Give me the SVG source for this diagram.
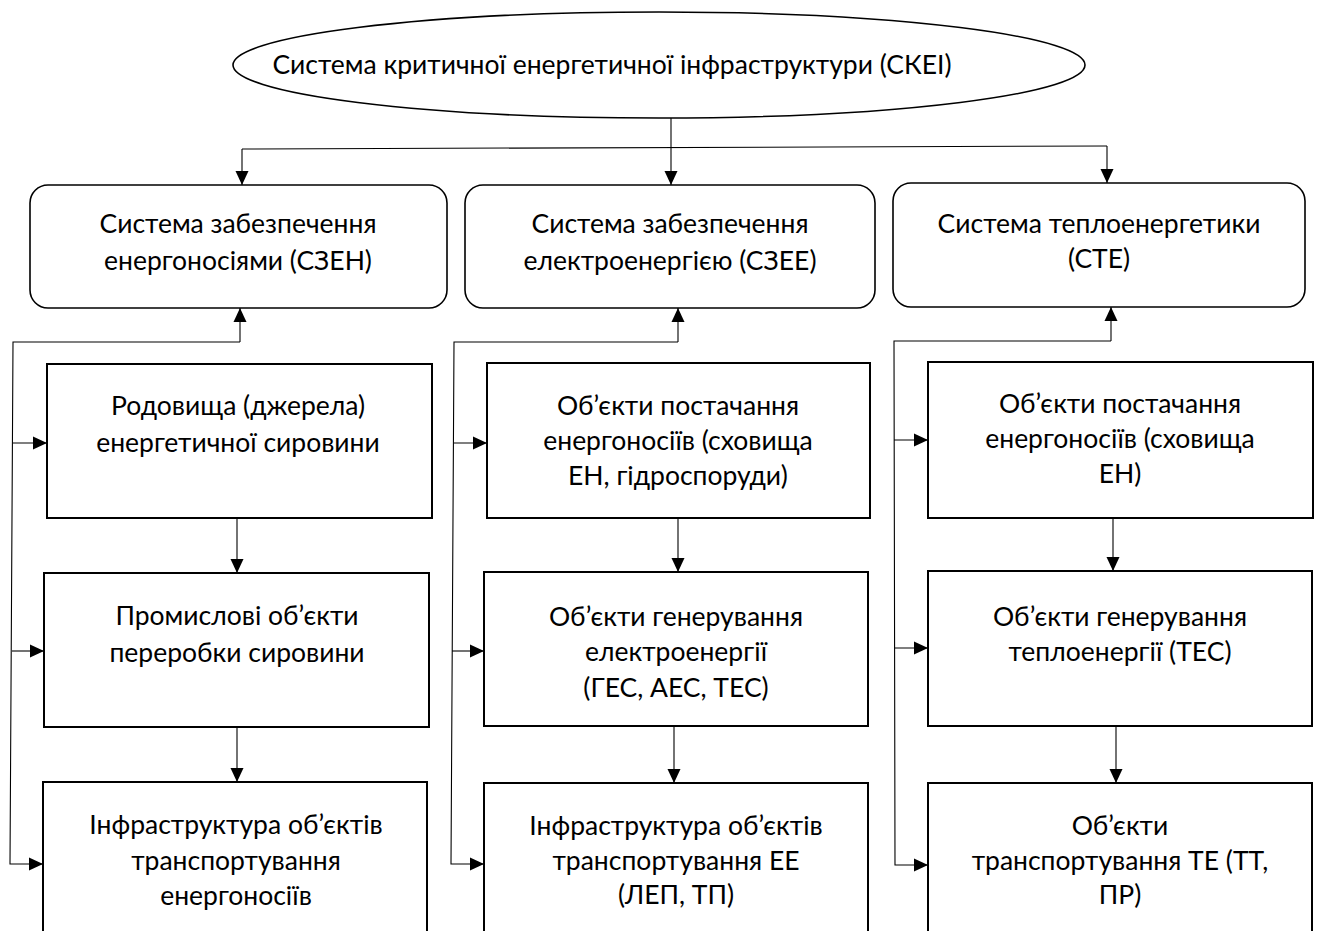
<svg xmlns="http://www.w3.org/2000/svg" width="1318" height="931" viewBox="0 0 1318 931">
<defs>
<style>
text{font-family:Lato,"Open Sans","Liberation Sans",sans-serif;font-size:26.5px;fill:#000;text-anchor:middle}
.rb{fill:#fff;stroke:#000;stroke-width:1.6}
.bx{fill:#fff;stroke:#000;stroke-width:2}
.el{fill:#fff;stroke:#000;stroke-width:1.6}
.cn{fill:none;stroke:#000;stroke-width:1.1}
.ar{fill:none;stroke:#000;stroke-width:1.1;marker-end:url(#ah)}
</style>
<marker id="ah" markerUnits="userSpaceOnUse" markerWidth="14" markerHeight="14" refX="14" refY="7" orient="auto" viewBox="0 0 14 14">
<path d="M0,0.5 L14,7 L0,13.5 z" fill="#000"/>
</marker>
</defs>
<rect width="1318" height="931" fill="#fff"/>

<g id="connectors">
<path class="ar" d="M671,118 V185"/>
<path class="cn" d="M242,149 L1107,146"/>
<path class="ar" d="M242,149 V185"/>
<path class="ar" d="M1107,146 V183"/>

<path class="ar" d="M240,342 V308"/>
<path class="ar" d="M240,342 H13 L10,864 H43"/>
<path class="ar" d="M13,443 H47"/>
<path class="ar" d="M12,651 H44"/>
<path class="ar" d="M237,518 V573"/>
<path class="ar" d="M237,727 V782"/>

<path class="ar" d="M678,342 V308"/>
<path class="ar" d="M678,342 H454 L451,864 H484"/>
<path class="ar" d="M454,443 H487"/>
<path class="ar" d="M452,651 H484"/>
<path class="ar" d="M678,518 V572"/>
<path class="ar" d="M674,726 V783"/>

<path class="ar" d="M1111,341 V307"/>
<path class="ar" d="M1111,341 H894 L895,865 H928"/>
<path class="ar" d="M894,440 H928"/>
<path class="ar" d="M895,648 H928"/>
<path class="ar" d="M1113,518 V571"/>
<path class="ar" d="M1116,726 V783"/>
</g>

<g id="ckei">
<ellipse class="el" cx="659" cy="65" rx="426" ry="53"/>
<text x="612" y="74">Система критичної енергетичної інфраструктури (СКЕІ)</text>
</g>

<g id="szen">
<rect class="rb" x="30" y="185" width="417" height="123" rx="18"/>
<text x="238" y="233">Система забезпечення</text>
<text x="238" y="270">енергоносіями (СЗЕН)</text>
</g>
<g id="szee">
<rect class="rb" x="465" y="185" width="410" height="123" rx="18"/>
<text x="670" y="233">Система забезпечення</text>
<text x="670" y="270">електроенергією (СЗЕЕ)</text>
</g>
<g id="ste">
<rect class="rb" x="893" y="183" width="412" height="124" rx="18"/>
<text x="1099" y="233">Система теплоенергетики</text>
<text x="1099" y="268">(СТЕ)</text>
</g>

<g id="c1r1">
<rect class="bx" x="47" y="364" width="385" height="154"/>
<text x="238" y="415">Родовища (джерела)</text>
<text x="238" y="452">енергетичної сировини</text>
</g>
<g id="c1r2">
<rect class="bx" x="44" y="573" width="385" height="154"/>
<text x="237" y="625">Промислові об’єкти</text>
<text x="237" y="662">переробки сировини</text>
</g>
<g id="c1r3">
<rect class="bx" x="43" y="782" width="384" height="170"/>
<text x="236" y="834">Інфраструктура об’єктів</text>
<text x="236" y="870">транспортування</text>
<text x="236" y="905">енергоносіїв</text>
</g>

<g id="c2r1">
<rect class="bx" x="487" y="363" width="383" height="155"/>
<text x="678" y="415">Об’єкти постачання</text>
<text x="678" y="450">енергоносіїв (сховища</text>
<text x="678" y="485">ЕН, гідроспоруди)</text>
</g>
<g id="c2r2">
<rect class="bx" x="484" y="572" width="384" height="154"/>
<text x="676" y="626">Об’єкти генерування</text>
<text x="676" y="661">електроенергії</text>
<text x="676" y="697">(ГЕС, АЕС, ТЕС)</text>
</g>
<g id="c2r3">
<rect class="bx" x="484" y="783" width="384" height="170"/>
<text x="676" y="835">Інфраструктура об’єктів</text>
<text x="676" y="870">транспортування ЕЕ</text>
<text x="676" y="904">(ЛЕП, ТП)</text>
</g>

<g id="c3r1">
<rect class="bx" x="928" y="362" width="385" height="156"/>
<text x="1120" y="413">Об’єкти постачання</text>
<text x="1120" y="448">енергоносіїв (сховища</text>
<text x="1120" y="483">ЕН)</text>
</g>
<g id="c3r2">
<rect class="bx" x="928" y="571" width="384" height="155"/>
<text x="1120" y="626">Об’єкти генерування</text>
<text x="1120" y="661">теплоенергії (ТЕС)</text>
</g>
<g id="c3r3">
<rect class="bx" x="928" y="783" width="384" height="170"/>
<text x="1120" y="835">Об’єкти</text>
<text x="1120" y="870">транспортування ТЕ (ТТ,</text>
<text x="1120" y="904">ПР)</text>
</g>
</svg>
